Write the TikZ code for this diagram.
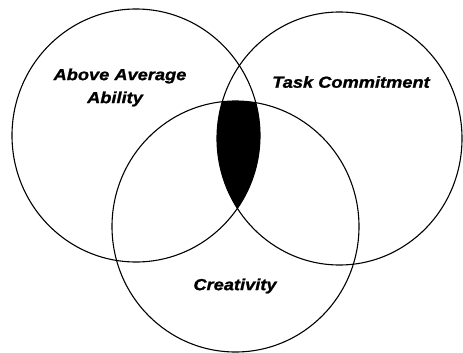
\documentclass[tikz,border=0pt]{standalone}
\usepackage{fontspec}
\newfontfamily\labfont[FakeStretch=1.14,FakeBold=1.2]{Liberation Sans}
\begin{document}
\begin{tikzpicture}[x=1pt,y=-1pt,
  ring/.style={draw=black,line width=1.1pt},
  lab/.style={font=\labfont\bfseries\itshape\fontsize{16}{18}\selectfont,align=center,inner sep=0pt}]
\useasboundingbox (0,0) rectangle (463,353);
\coordinate (cl) at (136,135.5);
\coordinate (cr) at (339.5,138.5);
\coordinate (cb) at (235.5,226.5);
\begin{scope}
  \clip (cl) ellipse [x radius=124,y radius=126.5];
  \clip (cr) ellipse [x radius=122.5,y radius=126.5];
  \fill[black] (cb) ellipse [x radius=123.5,y radius=125.5];
\end{scope}
\draw[ring] (cl) ellipse [x radius=124,y radius=126.5];
\draw[ring] (cr) ellipse [x radius=122.5,y radius=126.5];
\draw[ring] (cb) ellipse [x radius=123.5,y radius=125.5];
\node[lab] (above) at (120,76) {Above Average};
\node[lab] (ability) at (115,99) {Ability};
\node[lab] (task) at (351,82) {Task Commitment};
\node[lab] (creat) at (235,286) {Creativity};
\end{tikzpicture}
\end{document}
